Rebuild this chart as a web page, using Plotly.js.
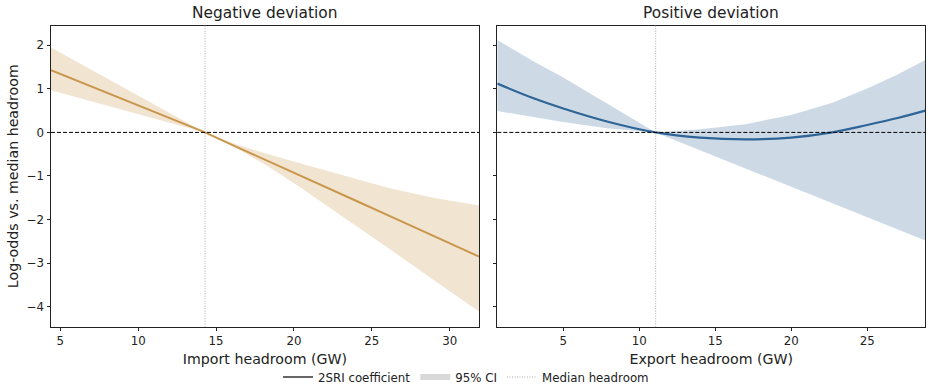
<!DOCTYPE html>
<html>
<head>
<meta charset="utf-8">
<script src="https://cdn.plot.ly/plotly-3.0.1.min.js"></script>
<style>
  html, body { margin: 0; padding: 0; background: #fff; }
  #chart { width: 932px; height: 388px; }
</style>
</head>
<body>
<div id="chart"></div>
<script>
// Negative deviation: import headroom (GW) vs. log-odds, 2SRI estimate with 95% CI
const negX     = [4.4, 9.35, 14.29, 16.3, 18.25, 20.39, 22.52, 24.3, 26.16, 28.94, 31.88];
const negCoef  = [1.43, 0.715, 0, -0.33, -0.64, -0.99, -1.33, -1.62, -1.92, -2.37, -2.85];
const negUpper = [1.95, 0.97, 0, -0.27, -0.49, -0.71, -0.93, -1.10, -1.28, -1.50, -1.68];
const negLower = [0.97, 0.48, 0, -0.36, -0.76, -1.26, -1.78, -2.22, -2.68, -3.38, -4.11];
const negMedian = 14.29;

// Positive deviation: export headroom (GW)
const posX     = [0.66, 3, 5, 8, 11.08, 14, 17, 20, 22.7, 25, 27, 28.82];
const posCoef  = [1.12, 0.79, 0.55, 0.24, 0, -0.12, -0.16, -0.12, 0, 0.17, 0.33, 0.50];
const posUpper = [2.12, 1.64, 1.26, 0.63, 0, 0.07, 0.19, 0.40, 0.68, 1.01, 1.33, 1.66];
const posLower = [0.49, 0.35, 0.24, 0.09, 0, -0.41, -0.83, -1.25, -1.62, -1.95, -2.23, -2.48];
const posMedian = 11.08;

const xTicksNeg = [5, 10, 15, 20, 25, 30];
const xTicksPos = [5, 10, 15, 20, 25];
const yTicks = [-4, -3, -2, -1, 0, 1, 2];

const tan = '#c9964b', tanBand = 'rgba(201,150,75,0.25)';
const blue = '#2f6497', blueBand = 'rgba(47,100,151,0.24)';
const FONT = 'DejaVu Sans, sans-serif';

function band(x, lo, hi, color, xa, ya) {
  return [
    {x: x, y: lo, type: 'scatter', mode: 'lines', line: {width: 0, color: color},
     xaxis: xa, yaxis: ya, showlegend: false, hoverinfo: 'skip'},
    {x: x, y: hi, type: 'scatter', mode: 'lines', line: {width: 0, color: color},
     fill: 'tonexty', fillcolor: color, xaxis: xa, yaxis: ya, showlegend: false, hoverinfo: 'skip'}
  ];
}

const traces = [
  ...band(negX, negLower, negUpper, tanBand, 'x', 'y'),
  {x: negX, y: negCoef, type: 'scatter', mode: 'lines', line: {color: tan, width: 2},
   xaxis: 'x', yaxis: 'y', showlegend: false},
  ...band(posX, posLower, posUpper, blueBand, 'x2', 'y2'),
  {x: posX, y: posCoef, type: 'scatter', mode: 'lines', line: {color: blue, width: 2.2, shape: 'spline'},
   xaxis: 'x2', yaxis: 'y2', showlegend: false},
  // legend keys
  {x: [null], y: [null], type: 'scatter', mode: 'lines', name: '2SRI coefficient',
   line: {color: '#666666', width: 2}, xaxis: 'x', yaxis: 'y'},
  {x: [null], y: [null], type: 'scatter', mode: 'none', name: '95% CI', fill: 'toself',
   fillcolor: '#d9d9d9', xaxis: 'x', yaxis: 'y'},
  {x: [null], y: [null], type: 'scatter', mode: 'lines', name: 'Median headroom',
   line: {color: '#aaaaaa', width: 1, dash: '1px,1.5px'}, xaxis: 'x', yaxis: 'y'}
];

const axisBase = {
  showgrid: false, zeroline: false, showline: true, mirror: true,
  linecolor: '#222', linewidth: 1,
  ticks: 'outside', ticklen: 3.5, tickwidth: 1, tickcolor: '#222',
  tickfont: {family: FONT, size: 11.8, color: '#222'},
  automargin: false
};

const layout = {
  width: 932, height: 388,
  margin: {l: 0, r: 0, t: 0, b: 0, autoexpand: false},
  paper_bgcolor: '#fff', plot_bgcolor: '#fff',
  font: {family: FONT, color: '#222'},
  xaxis: Object.assign({}, axisBase, {
    domain: [51 / 932, 479 / 932], range: [4.4, 31.88], tickvals: xTicksNeg, anchor: 'y',
    title: {text: 'Import headroom (GW)', font: {family: FONT, size: 14.2, color: '#222'}, standoff: 6}
  }),
  yaxis: Object.assign({}, axisBase, {
    domain: [1 - 326.7 / 388, 1 - 25.7 / 388], range: [-4.46, 2.45], tickvals: yTicks, anchor: 'x',
    title: {text: 'Log-odds vs. median headroom', font: {family: FONT, size: 14.2, color: '#222'}, standoff: 4}
  }),
  xaxis2: Object.assign({}, axisBase, {
    domain: [497.3 / 932, 925.3 / 932], range: [0.66, 28.82], tickvals: xTicksPos, anchor: 'y2',
    title: {text: 'Export headroom (GW)', font: {family: FONT, size: 14.2, color: '#222'}, standoff: 6}
  }),
  yaxis2: Object.assign({}, axisBase, {
    domain: [1 - 326.7 / 388, 1 - 25.7 / 388], range: [-4.46, 2.45], tickvals: yTicks, anchor: 'x2',
    showticklabels: false
  }),
  shapes: [
    {type: 'line', xref: 'x domain', yref: 'y', x0: 0, x1: 1, y0: 0, y1: 0,
     line: {color: '#000', width: 1, dash: '4px,2px'}, layer: 'above'},
    {type: 'line', xref: 'x2 domain', yref: 'y2', x0: 0, x1: 1, y0: 0, y1: 0,
     line: {color: '#000', width: 1, dash: '4px,2px'}, layer: 'above'},
    {type: 'line', xref: 'x', yref: 'y domain', x0: negMedian, x1: negMedian, y0: 0, y1: 1,
     line: {color: '#aaaaaa', width: 1, dash: '1px,1.5px'}, layer: 'above'},
    {type: 'line', xref: 'x2', yref: 'y2 domain', x0: posMedian, x1: posMedian, y0: 0, y1: 1,
     line: {color: '#aaaaaa', width: 1, dash: '1px,1.5px'}, layer: 'above'}
  ],
  annotations: [
    {text: 'Negative deviation', xref: 'paper', yref: 'paper', x: 265 / 932, y: 1 - 13 / 388,
     xanchor: 'center', yanchor: 'middle', showarrow: false, font: {family: FONT, size: 15.4, color: '#222'}},
    {text: 'Positive deviation', xref: 'paper', yref: 'paper', x: 711.3 / 932, y: 1 - 13 / 388,
     xanchor: 'center', yanchor: 'middle', showarrow: false, font: {family: FONT, size: 15.4, color: '#222'}}
  ],
  showlegend: true,
  legend: {
    orientation: 'h', x: 0.5, xanchor: 'center', y: 11 / 388, yanchor: 'middle',
    font: {family: FONT, size: 11.8, color: '#222'}, bgcolor: 'rgba(0,0,0,0)',
    itemwidth: 30, traceorder: 'normal'
  }
};

Plotly.newPlot('chart', traces, layout, {staticPlot: true, displayModeBar: false});
</script>
</body>
</html>
